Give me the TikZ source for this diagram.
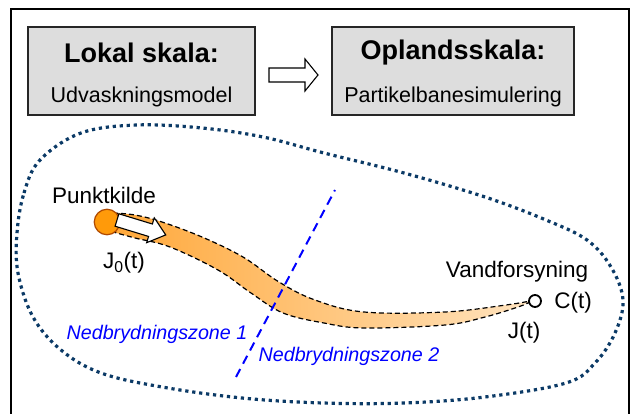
\documentclass[tikz,border=0pt]{standalone}
\usepackage{fontspec}
\setmainfont{Liberation Sans}
\definecolor{boxgray}{HTML}{DDDDDD}
\definecolor{navy}{HTML}{0B3A66}
\definecolor{plumeA}{HTML}{FFA83A}
\definecolor{plumeB}{HTML}{FFE3BE}
\definecolor{srcfill}{HTML}{FF9A0A}
\definecolor{srcdraw}{HTML}{B04A00}
\definecolor{zoneblue}{HTML}{0000FF}
\begin{document}
\begin{tikzpicture}[x=1pt,y=-1pt,
  scalebox/.style={draw=black!85, fill=boxgray, line width=1.1pt, inner sep=0pt},
  title/.style={font=\fontsize{27}{30}\selectfont\bfseries, inner sep=0pt},
  sub/.style={font=\fontsize{21.5}{25}\selectfont, inner sep=0pt},
  lbl/.style={font=\fontsize{22.5}{26}\selectfont, inner sep=0pt},
  zone/.style={font=\fontsize{19.7}{23}\selectfont\itshape, text=zoneblue, inner sep=0pt},
  blockarrow/.style={draw=black, fill=white, line width=1.1pt, line join=miter},
  plumeedge/.style={draw=black, line width=1.2pt, dash pattern=on 5pt off 3pt},
  catchment/.style={draw=navy, line width=3.2pt, dash pattern=on 3.2pt off 3.8pt},
  divider/.style={draw=zoneblue, line width=2pt, dash pattern=on 9pt off 6pt}]
\useasboundingbox (0,0) rectangle (632,414);
\fill[white] (0,0) rectangle (632,414);
% outer frame
\draw[line width=1.8pt] (11,9) rectangle (629,425);
% scale boxes
\node[scalebox, minimum width=227pt, minimum height=88pt] (lok) at (141.5,71) {};
\node[scalebox, minimum width=242pt, minimum height=88pt] (opl) at (453,71) {};
\node[title] (lokt) at (141.5,53) {Lokal skala:};
\node[sub] (loks) at (141.5,97) {Udvaskningsmodel};
\node[title] (oplt) at (453,53) {Oplandsskala:};
\node[sub] (opls) at (453,97) {Partikelbanesimulering};
% block arrow between boxes
\draw[blockarrow] (269,68) -- (305,68) -- (305,59) -- (318,75) -- (305,91) -- (305,82) -- (269,82) -- cycle;
% catchment outline
\draw[catchment] plot[smooth cycle, tension=0.6] coordinates {
 (17,233) (24,193) (40,160) (81,133) (137,125) (202,128) (263,137) (324,153)
 (404,173) (485,197) (546,220) (587,240) (611,267) (623,300) (615,333)
 (595,363) (566,383) (485,397) (404,403) (323,403) (242,398) (162,387)
 (101,373) (61,350) (33,317) (18,273)};
% plume
\path[left color=plumeA, right color=plumeB, plumeedge]
  plot[smooth, tension=0.6] coordinates {(113,213) (135,215) (162,222) (202,237) (243,257) (279,282) (315,300) (364,312) (445,312) (506,305) (530,301)}
  -- plot[smooth, tension=0.6] coordinates {(530,302) (518,307) (485,317) (445,325) (364,328) (324,323) (283,313) (251,293) (218,270) (170,247) (135,238) (113,232)}
  -- cycle;
% zone divider
\coordinate (d1) at (236,377);
\coordinate (d2) at (335,190);
\draw[divider] (d1) -- (d2);
% point source
\node[circle, fill=srcfill, draw=srcdraw, line width=1.2pt, minimum size=25.5pt, inner sep=0pt] (src) at (107,222) {};
\begin{scope}[shift={(117,220)}, rotate=-17]
\draw[blockarrow] (0,-6.5) -- (35,-6.5) -- (35,-13) -- (51,0) -- (35,13) -- (35,6.5) -- (0,6.5) -- cycle;
\end{scope}
% water supply well
\node[circle, fill=white, draw=black, line width=1.8pt, minimum size=12pt, inner sep=0pt] (well) at (535,301) {};
% labels
\node[lbl] (pk) at (104,195) {Punktkilde};
\node[lbl] (j0) at (124,263) {J\textsubscript{0}(t)};
\node[lbl] (vf) at (517,272) {Vandforsyning};
\node[lbl] (ct) at (573,303) {C(t)};
\node[lbl] (jt) at (524,333) {J(t)};
\node[zone] (z1) at (157,334) {Nedbrydningszone 1};
\node[zone] (z2) at (349,356) {Nedbrydningszone 2};
\end{tikzpicture}
\end{document}
